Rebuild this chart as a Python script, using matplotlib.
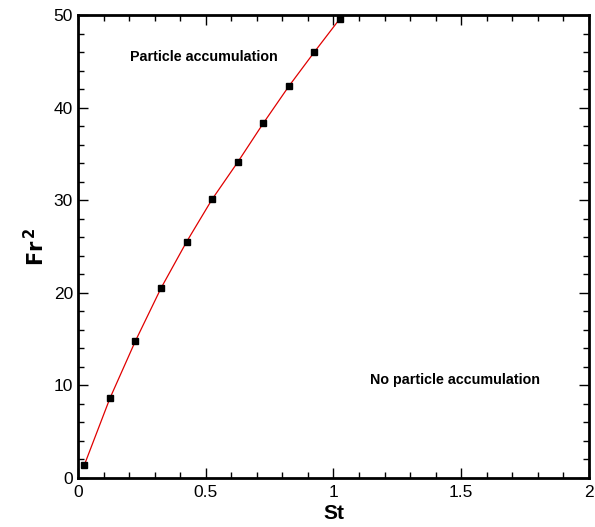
import matplotlib
matplotlib.use("Agg")
import matplotlib.pyplot as plt
from matplotlib.ticker import MultipleLocator

plt.rcParams['font.family'] = ['Liberation Sans', 'DejaVu Sans']

st = [0.025, 0.125, 0.225, 0.325, 0.425, 0.525, 0.625, 0.725, 0.825, 0.925, 1.025]
fr2 = [1.4, 8.6, 14.8, 20.5, 25.5, 30.1, 34.1, 38.3, 42.3, 46.0, 49.6]

fig = plt.figure(figsize=(5.95, 5.27), dpi=100)
ax = fig.add_axes([0.131, 0.093, 0.859, 0.8785])
ax.plot(st, fr2, color='#e00000', lw=0.9, zorder=2)
ax.plot(st, fr2, ls='none', marker='s', ms=4.5, color='black', zorder=3)

ax.set_xlim(0, 2)
ax.set_ylim(0, 50)
ax.xaxis.set_major_locator(MultipleLocator(0.5))
ax.xaxis.set_minor_locator(MultipleLocator(0.1))
ax.yaxis.set_major_locator(MultipleLocator(10))
ax.yaxis.set_minor_locator(MultipleLocator(2))
ax.set_xticks([0, 0.5, 1, 1.5, 2])
ax.set_xticklabels(['0', '0.5', '1', '1.5', '2'])
ax.tick_params(which='both', direction='in', top=True, right=True, labelsize=12.5, width=1)
ax.tick_params(axis='x', which='major', pad=5)
ax.tick_params(which='major', length=7)
ax.tick_params(which='minor', length=4)
for s in ax.spines.values():
    s.set_linewidth(2)

ax.set_xlabel('St', fontsize=15, fontweight='bold', labelpad=3)
ax.set_ylabel(r'$\mathbf{Fr}^{\,\mathbf{2}}$', fontsize=15, labelpad=4)

ax.text(0.204, 45.5, 'Particle accumulation', fontsize=10.3, fontweight='bold', va='center')
ax.text(1.143, 10.6, 'No particle accumulation', fontsize=10.3, fontweight='bold', va='center')

fig.savefig('out.png', dpi=100)
